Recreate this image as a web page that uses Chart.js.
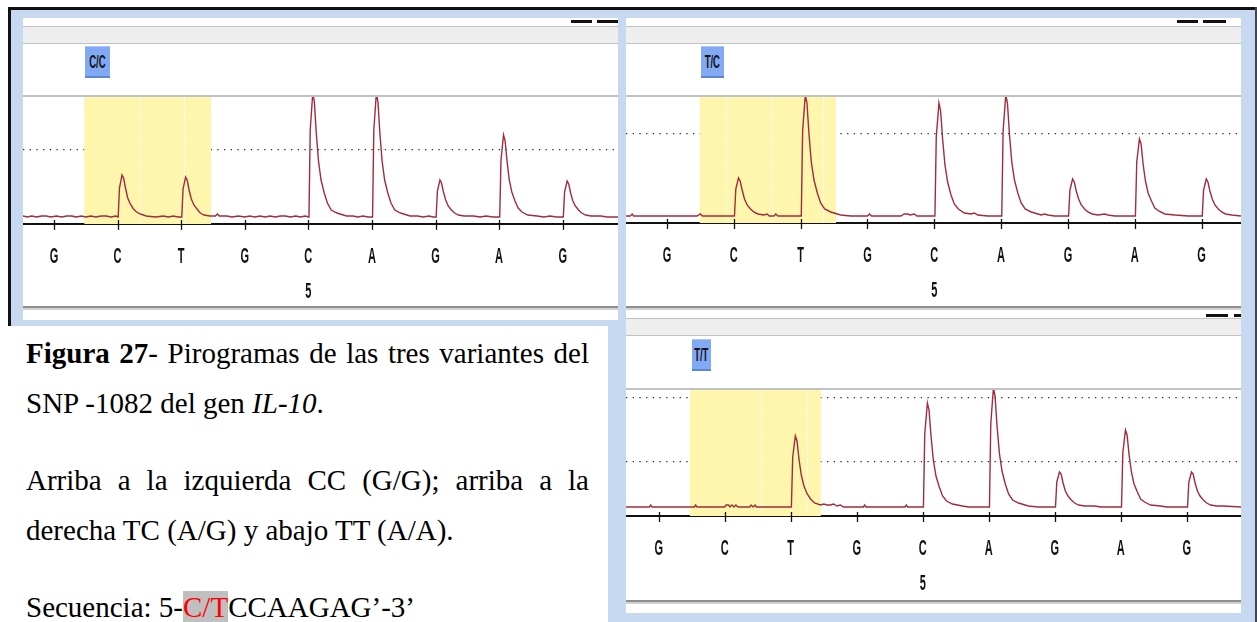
<!DOCTYPE html>
<html>
<head>
<meta charset="utf-8">
<script src="https://cdn.jsdelivr.net/npm/chart.js@4.4.1/dist/chart.umd.min.js"></script>
<style>
  html, body { margin: 0; padding: 0; background: #fff; }
  body { width: 1257px; height: 622px; position: relative; overflow: hidden; font-family: "Liberation Sans", Arial, sans-serif; }
  .abs { position: absolute; }
  .frame { left: 11px; top: 10px; width: 1244px; height: 612px; background: #c6d9f1; }
  .ink { background: #111; }
  .white { background: #fff; }
  .rule { background: #c2c2c2; }
  .band { background: #eeeeee; }
  .dark { background: #8e8e8e; }
  .light { background: #d2d2d2; }
  .call { position: absolute; height: 29px; background: #82a9f4; border-top: 1px solid #aac5f8; border-bottom: 2px solid #5e85d2;
          display: flex; align-items: center; justify-content: center; overflow: visible; }
  .call span { font: bold 19px "Liberation Sans", Arial, sans-serif; color: #111; transform: scaleX(0.5); display: inline-block; white-space: nowrap; }
  .cap { position: absolute; left: 26px; width: 563px; font: 29px/50px "Liberation Serif", "Times New Roman", serif; color: #000; }
  .j { text-align: justify; text-align-last: justify; }
  .snp { color: #ff0000; background: #bfbfbf; }
</style>
</head>
<body>
<!-- window frame -->
<div class="abs frame"></div>
<div class="abs ink" style="left:8px;top:7px;width:1249px;height:3px"></div>
<div class="abs ink" style="left:8px;top:7px;width:3px;height:319px"></div>
<div class="abs" style="left:1255px;top:7px;width:2px;height:615px;background:#444"></div>

<!-- panel: C/C -->
<div class="abs white" style="left:23px;top:18px;width:595px;height:302px"></div>
<div class="abs ink" style="left:571px;top:20px;width:21px;height:3px"></div>
<div class="abs ink" style="left:597px;top:20px;width:21px;height:3px"></div>
<div class="abs rule" style="left:23px;top:26px;width:595px;height:1px"></div>
<div class="abs band" style="left:23px;top:27px;width:595px;height:16px"></div>
<div class="abs rule" style="left:23px;top:43px;width:595px;height:1px"></div>
<div class="abs rule" style="left:23px;top:95px;width:595px;height:2px"></div>
<div class="abs dark" style="left:23px;top:306px;width:595px;height:2px"></div>
<div class="abs light" style="left:23px;top:308px;width:595px;height:2px"></div>
<div class="call" style="left:85px;top:46px;width:25px"><span>C/C</span></div>
<canvas id="cc" class="abs" width="595" height="209" style="left:23px;top:97px"></canvas>

<!-- panel: T/C -->
<div class="abs white" style="left:626px;top:18px;width:615px;height:292px"></div>
<div class="abs ink" style="left:1177px;top:20px;width:21px;height:3px"></div>
<div class="abs ink" style="left:1203px;top:20px;width:23px;height:3px"></div>
<div class="abs rule" style="left:626px;top:26px;width:615px;height:1px"></div>
<div class="abs band" style="left:626px;top:27px;width:615px;height:16px"></div>
<div class="abs rule" style="left:626px;top:43px;width:615px;height:1px"></div>
<div class="abs rule" style="left:626px;top:95px;width:615px;height:2px"></div>
<div class="abs dark" style="left:626px;top:306px;width:615px;height:2px"></div>
<div class="abs light" style="left:626px;top:308px;width:615px;height:2px"></div>
<div class="call" style="left:701px;top:46px;width:23px"><span>T/C</span></div>
<canvas id="tc" class="abs" width="615" height="209" style="left:626px;top:97px"></canvas>

<!-- panel: T/T -->
<div class="abs white" style="left:626px;top:310px;width:615px;height:303px"></div>
<div class="abs ink" style="left:1206px;top:314px;width:22px;height:3px"></div>
<div class="abs ink" style="left:1234px;top:314px;width:7px;height:3px"></div>
<div class="abs rule" style="left:626px;top:318px;width:615px;height:1px"></div>
<div class="abs band" style="left:626px;top:319px;width:615px;height:16px"></div>
<div class="abs rule" style="left:626px;top:335px;width:615px;height:1px"></div>
<div class="abs rule" style="left:626px;top:388px;width:615px;height:2px"></div>
<div class="abs dark" style="left:626px;top:600px;width:615px;height:2px"></div>
<div class="abs light" style="left:626px;top:602px;width:615px;height:2px"></div>
<div class="call" style="left:692px;top:339px;width:19px"><span>T/T</span></div>
<canvas id="tt" class="abs" width="615" height="210" style="left:626px;top:390px"></canvas>

<!-- caption -->
<div class="abs white" style="left:0;top:326px;width:608px;height:296px"></div>
<div class="cap" style="top:328px">
  <div class="j"><b>Figura 27</b>- Pirogramas de las tres variantes del</div>
  <div>SNP -1082 del gen <i>IL-10</i>.</div>
</div>
<div class="cap" style="top:455px">
  <div class="j">Arriba a la izquierda CC (G/G); arriba a la</div>
  <div>derecha TC (A/G) y abajo TT (A/A).</div>
</div>
<div class="cap" style="top:582px">Secuencia: 5-<span class="snp">C/T</span>CCAAGAG’-3’</div>

<script>
// Dispensation order shared by all three pyrograms
const bases = ['G', 'C', 'T', 'G', 'C', 'A', 'G', 'A', 'G'];
const positionMarks = [[4, '5']];

// Genotype C/C: light signal per dispensation, [dispensation, signal]
const ccX = [-0.487, 8.87];
const ccY = [-7, 120];
const ccGuides = [67];
const ccWindow = [0.477, 2.47];
const ccDividers = [1.35, 2.04];
const ccTrace = [
  [-0.487,1],[-0.42,0],[-0.35,1],[-0.27,0],[-0.2,1],[-0.12,1],[-0.05,0],[0.04,1],[0.12,0],[0.2,1],[0.28,1],[0.35,0],[0.43,1],[0.5,0],[0.58,1],[0.66,0],[0.74,1],[0.82,1],[0.9,0],[0.97,1],
  [1.01,0],[1.03,29],[1.07,42],[1.095,39],[1.125,29],[1.16,19],[1.2,13],[1.25,8],[1.3,5],[1.36,3],[1.45,1],[1.6,0],[1.72,1],[1.8,0],[1.88,1],[1.95,0],
  [2.01,0],[2.03,28],[2.07,40],[2.095,37],[2.125,27],[2.16,18],[2.2,12],[2.25,8],[2.3,4],[2.36,2],[2.45,1],[2.54,1],[2.57,3],[2.6,1],[2.72,1],[2.8,0],[2.9,1],[3.0,0],[3.08,1],[3.16,0],[3.24,1],[3.32,0],[3.4,1],[3.48,0],[3.56,1],[3.64,1],[3.72,0],[3.8,1],[3.88,0],[3.95,1],
  [4.01,0],[4.03,87],[4.07,124],[4.095,115],[4.125,84],[4.16,56],[4.2,37],[4.25,24],[4.3,14],[4.36,7],[4.45,4],[4.6,1],[4.7,1],[4.78,0],[4.86,1],[4.94,0],
  [5.01,0],[5.03,87],[5.07,124],[5.095,115],[5.125,84],[5.16,56],[5.2,37],[5.25,24],[5.3,14],[5.36,7],[5.45,4],[5.6,1],[5.72,1],[5.8,0],[5.9,1],[5.96,0],
  [6.01,0],[6.03,26],[6.07,37],[6.095,34],[6.125,25],[6.16,17],[6.2,11],[6.25,7],[6.3,4],[6.36,2],[6.45,1],[6.6,1],[6.7,0],[6.8,1],[6.9,0],[6.96,0],
  [7.01,0],[7.03,57],[7.07,82],[7.095,76],[7.125,56],[7.16,37],[7.2,25],[7.25,16],[7.3,9],[7.36,5],[7.45,2],[7.6,1],[7.7,0],[7.8,1],[7.9,0],[7.96,0],
  [8.01,0],[8.03,25],[8.07,36],[8.095,33],[8.125,24],[8.16,16],[8.2,11],[8.25,7],[8.3,4],[8.36,2],[8.45,1],[8.6,1],[8.7,0],[8.87,0]
];

// Genotype T/C
const tcX = [-0.613, 8.59];
const tcY = [-7, 119];
const tcGuides = [82];
const tcWindow = [0.49, 2.53];
const tcDividers = [0.88, 1.57, 2.33];
const tcTrace = [
  [-0.613,0],[-0.55,0],[-0.52,2],[-0.5,0],[-0.2,0],[0.2,0],[0.45,0],[0.5,2],[0.53,0],[0.8,0],[0.97,0],
  [1.01,0],[1.03,27],[1.07,38],[1.095,35],[1.125,26],[1.16,17],[1.2,11],[1.25,7],[1.3,4],[1.36,2],[1.45,1],[1.5,2],[1.53,0],[1.6,0],[1.63,2],[1.66,0],[1.8,0],[1.97,0],
  [2.01,0],[2.03,85],[2.07,121],[2.095,113],[2.125,82],[2.16,54],[2.2,36],[2.25,23],[2.3,13],[2.36,7],[2.45,4],[2.6,1],[2.75,0],[3.0,0],[3.03,2],[3.06,0],[3.5,0],[3.55,2],[3.6,2],[3.64,1],[3.7,2],[3.74,0],[3.97,0],
  [4.01,0],[4.03,79],[4.07,113],[4.095,105],[4.125,77],[4.16,51],[4.2,34],[4.25,21],[4.3,12],[4.36,7],[4.45,3],[4.55,2],[4.6,3],[4.65,1],[4.8,0],[4.97,0],
  [5.01,0],[5.03,85],[5.07,121],[5.095,113],[5.125,82],[5.16,54],[5.2,36],[5.25,23],[5.3,13],[5.36,7],[5.45,4],[5.6,1],[5.65,2],[5.7,1],[5.8,0],[5.97,0],
  [6.01,0],[6.03,26],[6.07,37],[6.095,34],[6.125,25],[6.16,17],[6.2,11],[6.25,7],[6.3,4],[6.36,2],[6.45,1],[6.55,2],[6.6,1],[6.7,0],[6.97,0],
  [7.01,0],[7.03,54],[7.07,77],[7.095,72],[7.125,52],[7.16,35],[7.2,23],[7.25,15],[7.3,8],[7.36,5],[7.45,2],[7.6,1],[7.8,0],[7.97,0],
  [8.01,0],[8.03,26],[8.07,37],[8.095,34],[8.125,25],[8.16,17],[8.2,11],[8.25,7],[8.3,4],[8.36,2],[8.45,1],[8.59,0]
];

// Genotype T/T
const ttX = [-0.495, 8.82];
const ttY = [-9, 117];
const ttGuides = [45, 109];
const ttWindow = [0.474, 2.455];
const ttDividers = [1.555, 2.247];
const ttTrace = [
  [-0.495,0],[-0.14,0],[-0.12,2],[-0.1,0],[0.54,0],[0.56,2],[0.58,0],[1.0,0],[1.02,2],[1.06,2],[1.08,0],[1.11,2],[1.14,0],[1.17,2],[1.2,0],[1.38,0],[1.4,2],[1.43,0],[1.46,2],[1.48,0],[1.97,0],
  [2.01,0],[2.03,50],[2.07,71],[2.095,66],[2.125,48],[2.16,32],[2.2,21],[2.25,13],[2.3,8],[2.36,4],[2.45,2],[2.5,3],[2.55,2],[2.6,2],[2.65,3],[2.7,1],[2.75,2],[2.8,0],[3.1,0],[3.12,2],[3.14,0],[3.73,0],[3.75,2],[3.77,0],[3.98,0],
  [4.01,0],[4.03,73],[4.07,104],[4.095,97],[4.125,71],[4.16,47],[4.2,31],[4.25,20],[4.3,11],[4.36,6],[4.45,3],[4.6,1],[4.7,0],[4.97,0],
  [5.01,0],[5.03,83],[5.07,119],[5.095,111],[5.125,81],[5.16,54],[5.2,36],[5.25,23],[5.3,13],[5.36,7],[5.45,4],[5.6,1],[5.75,0],[5.97,0],
  [6.01,0],[6.03,25],[6.07,35],[6.095,33],[6.125,24],[6.16,16],[6.2,11],[6.25,7],[6.3,4],[6.36,2],[6.45,1],[6.6,1],[6.7,0],[6.97,0],
  [7.01,0],[7.03,54],[7.07,77],[7.095,72],[7.125,52],[7.16,35],[7.2,23],[7.25,15],[7.3,8],[7.36,5],[7.45,2],[7.6,1],[7.7,0],[7.97,0],
  [8.01,0],[8.03,25],[8.07,35],[8.095,33],[8.125,24],[8.16,16],[8.2,11],[8.25,7],[8.3,4],[8.36,2],[8.45,1],[8.55,1],[8.82,0]
];

// shaded SNP window behind the trace
const windowPlugin = {
  id: 'snpWindow',
  beforeDatasetsDraw(chart, args, opts) {
    const { ctx, chartArea: a, scales: { x } } = chart;
    const x0 = x.getPixelForValue(opts.range[0]);
    const x1 = x.getPixelForValue(opts.range[1]);
    ctx.save();
    ctx.fillStyle = '#fff6ad';
    ctx.fillRect(x0, a.top, x1 - x0, a.bottom - a.top);
    ctx.strokeStyle = '#ffffff';
    ctx.lineWidth = 1;
    ctx.setLineDash([2, 1]);
    opts.dividers.forEach(v => {
      const px = Math.round(x.getPixelForValue(v)) + 0.5;
      ctx.beginPath(); ctx.moveTo(px, a.top); ctx.lineTo(px, a.bottom); ctx.stroke();
    });
    ctx.restore();
  }
};

// tick marks, dispensed nucleotide letters and the position number
const basePlugin = {
  id: 'baseCalls',
  afterDraw(chart) {
    const { ctx, chartArea: a, scales: { x } } = chart;
    ctx.save();
    ctx.strokeStyle = '#111';
    ctx.lineWidth = 1.3;
    bases.forEach((b, i) => {
      const px = Math.round(x.getPixelForValue(i)) + 0.5;
      ctx.beginPath(); ctx.moveTo(px, a.bottom - 4); ctx.lineTo(px, a.bottom + 6); ctx.stroke();
    });
    ctx.fillStyle = '#111';
    ctx.font = 'bold 22px "Liberation Sans", Arial, sans-serif';
    ctx.textAlign = 'center';
    ctx.textBaseline = 'alphabetic';
    const put = (t, px, py) => {
      ctx.save(); ctx.translate(px, py); ctx.scale(0.5, 1); ctx.fillText(t, 0, 0); ctx.restore();
    };
    bases.forEach((b, i) => put(b, x.getPixelForValue(i), a.bottom + 39));
    positionMarks.forEach(([i, t]) => put(t, x.getPixelForValue(i), a.bottom + 74));
    ctx.restore();
  }
};

function pyrogram(id, rx, ry, guides, trace, win, dividers, axisH) {
  return new Chart(document.getElementById(id), {
    type: 'line',
    data: {
      datasets: [{
        data: trace.map(([x, y]) => ({ x, y })),
        borderColor: '#a02c3e',
        borderWidth: 1.4,
        pointRadius: 0,
        tension: 0,
        fill: false
      }]
    },
    options: {
      responsive: false,
      animation: false,
      devicePixelRatio: 1,
      layout: { padding: 0 },
      plugins: {
        legend: { display: false },
        tooltip: { enabled: false },
        snpWindow: { range: win, dividers: dividers }
      },
      scales: {
        x: {
          type: 'linear', min: rx[0], max: rx[1],
          afterBuildTicks: s => { s.ticks = bases.map((b, i) => ({ value: i })); },
          afterFit: s => { s.height = axisH; },
          ticks: { display: false },
          grid: { display: false },
          border: { display: true, color: '#111', width: 2 }
        },
        y: {
          min: ry[0], max: ry[1],
          afterBuildTicks: s => { s.ticks = guides.map(v => ({ value: v })); },
          afterFit: s => { s.width = 0; },
          ticks: { display: false },
          grid: { color: '#2a2a2a', lineWidth: 1.3, drawTicks: false },
          border: { display: false, dash: [1.3, 5.4] }
        }
      }
    },
    plugins: [windowPlugin, basePlugin]
  });
}

pyrogram('cc', ccX, ccY, ccGuides, ccTrace, ccWindow, ccDividers, 82);
pyrogram('tc', tcX, tcY, tcGuides, tcTrace, tcWindow, tcDividers, 83);
pyrogram('tt', ttX, ttY, ttGuides, ttTrace, ttWindow, ttDividers, 84);
</script>
</body>
</html>
